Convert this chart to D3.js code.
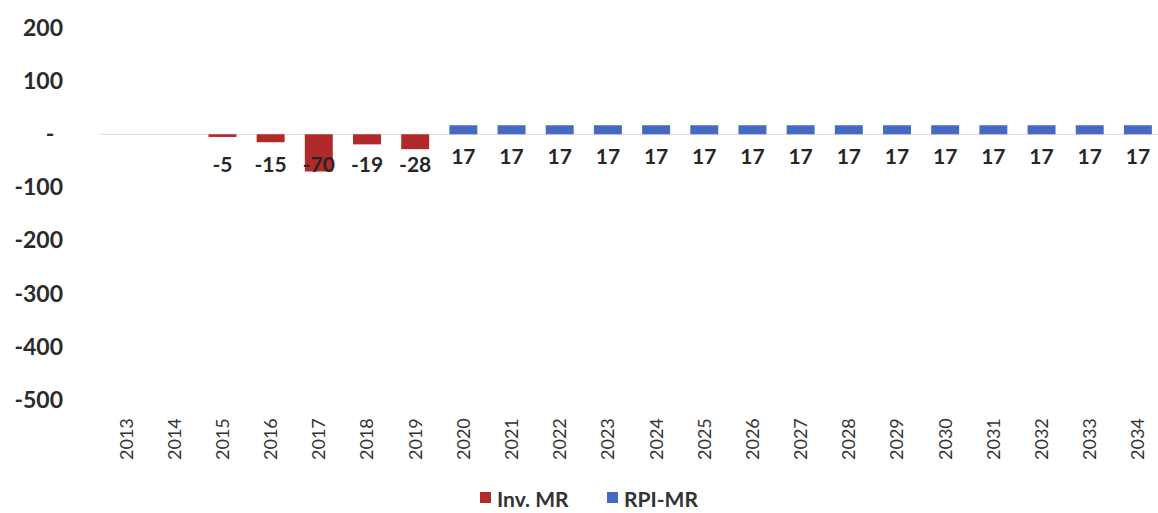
<!DOCTYPE html>
<html>
<head>
<meta charset="utf-8">
<script src="https://cdn.jsdelivr.net/npm/d3@7"></script>
<style>
  html, body { margin: 0; padding: 0; background: #fff; }
  svg { display: block; }
</style>
</head>
<body>
<svg id="chart" width="1158" height="513"></svg>
<script>
// Annual values by year
const years = ["2013","2014","2015","2016","2017","2018","2019","2020","2021","2022","2023",
               "2024","2025","2026","2027","2028","2029","2030","2031","2032","2033","2034"];
const invMR = [null, null, -5, -15, -70, -19, -28, null, null, null, null,
               null, null, null, null, null, null, null, null, null, null, null];
const rpiMR = [null, null, null, null, null, null, null, 17, 17, 17, 17,
               17, 17, 17, 17, 17, 17, 17, 17, 17, 17, 17];
const yTicks = [200, 100, 0, -100, -200, -300, -400, -500];
const seriesNames = ["Inv. MR", "RPI-MR"];

const colors = { inv: "#b02a2a", rpi: "#4669c4" };
const svg = d3.select("#chart");

const x = d3.scaleBand().domain(years).range([102, 1162])
  .paddingInner(0.42).paddingOuter(0.21);
const y = d3.scaleLinear().domain([-500, 200]).range([400, 28]);

// zero baseline
svg.append("line")
  .attr("x1", 100).attr("x2", 1158)
  .attr("y1", y(0)).attr("y2", y(0))
  .attr("stroke", "#d9d9d9").attr("stroke-width", 1);

// y axis (accounting style: zero shown as a dash, plain hyphen for negatives)
const yAxis = svg.append("g").attr("transform", "translate(63,0)")
  .call(d3.axisLeft(y).tickValues(yTicks).tickSize(0).tickPadding(0)
    .tickFormat(d => d === 0 ? "-" : String(d)));
yAxis.select(".domain").remove();
yAxis.selectAll("text")
  .attr("font-family", "Lato, 'Open Sans', sans-serif")
  .attr("font-weight", "bold")
  .attr("font-size", 23)
  .attr("fill", "#2b2b2b");
yAxis.selectAll(".tick").filter(d => d === 0).select("text")
  .attr("text-anchor", "middle").attr("x", -13);

// x axis with rotated year labels
const xAxis = svg.append("g").attr("transform", "translate(0,460)")
  .call(d3.axisBottom(x).tickSize(0));
xAxis.select(".domain").remove();
xAxis.selectAll("text")
  .attr("x", 0).attr("y", 0).attr("dy", "0.36em")
  .attr("text-anchor", "start")
  .attr("transform", "rotate(-90)")
  .attr("font-family", "Lato, 'Open Sans', sans-serif")
  .attr("font-size", 18)
  .attr("fill", "#333");

const rows = years.map((yr, i) => ({ yr, inv: invMR[i], rpi: rpiMR[i] }));

// bars
svg.append("g").selectAll("rect")
  .data(rows.filter(d => d.inv !== null))
  .join("rect")
  .attr("x", d => x(d.yr)).attr("width", x.bandwidth())
  .attr("y", d => Math.min(y(0), y(d.inv)))
  .attr("height", d => Math.abs(y(d.inv) - y(0)))
  .attr("fill", colors.inv);

svg.append("g").selectAll("rect")
  .data(rows.filter(d => d.rpi !== null))
  .join("rect")
  .attr("x", d => x(d.yr)).attr("width", x.bandwidth())
  .attr("y", d => Math.min(y(0), y(d.rpi)))
  .attr("height", d => Math.abs(y(d.rpi) - y(0)))
  .attr("fill", colors.rpi);

// value labels
const labelFont = g => g
  .attr("font-family", "Lato, 'Open Sans', sans-serif")
  .attr("font-weight", "bold")
  .attr("font-size", 21)
  .attr("fill", "#262626")
  .attr("text-anchor", "middle")
  .attr("dominant-baseline", "central");

svg.append("g").selectAll("text")
  .data(rows.filter(d => d.inv !== null))
  .join("text")
  .attr("x", d => x(d.yr) + x.bandwidth() / 2)
  .attr("y", y(0) + 29)
  .text(d => d.inv)
  .call(labelFont);

svg.append("g").selectAll("text")
  .data(rows.filter(d => d.rpi !== null))
  .join("text")
  .attr("x", d => x(d.yr) + x.bandwidth() / 2)
  .attr("y", y(0) + 21)
  .text(d => d.rpi)
  .call(labelFont);

// legend
const legend = svg.append("g").attr("transform", "translate(480,498)");
const items = [
  { name: seriesNames[0], color: colors.inv, dx: 0 },
  { name: seriesNames[1], color: colors.rpi, dx: 127 }
];
const li = legend.selectAll("g").data(items).join("g")
  .attr("transform", d => `translate(${d.dx},0)`);
li.append("rect").attr("x", 0).attr("y", -6).attr("width", 11).attr("height", 11)
  .attr("fill", d => d.color);
li.append("text").attr("x", 17).attr("y", 0).attr("dominant-baseline", "central")
  .attr("font-family", "Lato, 'Open Sans', sans-serif")
  .attr("font-weight", "bold").attr("font-size", 21)
  .attr("fill", "#333")
  .text(d => d.name);
</script>
</body>
</html>
